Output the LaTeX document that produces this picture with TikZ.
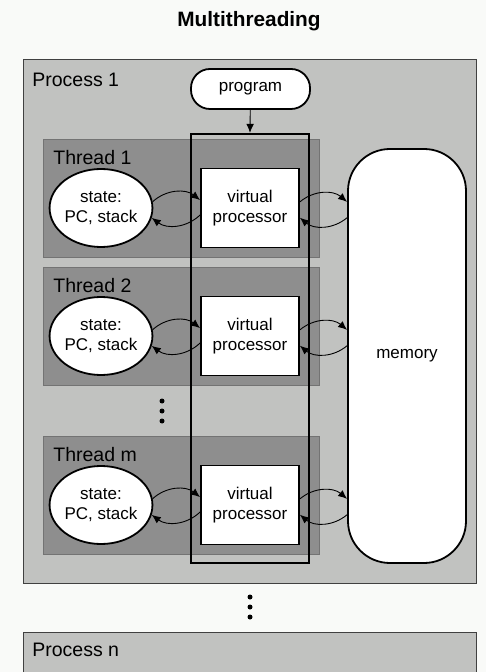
\documentclass[tikz,border=0pt]{standalone}
\usepackage{fontspec}
\setmainfont{Liberation Sans}
\usepackage{xcolor}
\usetikzlibrary{shapes.geometric, arrows, arrows.meta, positioning, fit}

\definecolor{pagebg}{RGB}{249,250,248}
\definecolor{procgray}{RGB}{193,194,192}
\definecolor{threadgray}{RGB}{142,142,142}

\begin{document}
\begin{tikzpicture}[x=0.5pt, y=0.5pt]
	% Styles
	\tikzstyle{procbox} = [draw=black!75, fill=procgray, line width=0.5pt, inner sep=0pt]
	\tikzstyle{threadbox} = [draw=black!55, fill=threadgray, line width=0.4pt, inner sep=0pt]
	\tikzstyle{caption} = [anchor=west, font=\fontsize{9.75}{11}\selectfont, inner sep=0pt]
	\tikzstyle{statenode} = [ellipse, draw, line width=0.9pt, fill=white, minimum width=48.5pt, minimum height=39pt, inner sep=0pt, align=center, font=\fontsize{8.5}{10}\selectfont]
	\tikzstyle{vpbox} = [rectangle, draw, line width=0.9pt, fill=white, minimum width=49pt, minimum height=39.5pt, inner sep=0pt, align=center, font=\fontsize{8.5}{10}\selectfont]
	\tikzstyle{roundbox} = [rectangle, draw, line width=0.9pt, fill=white, inner sep=0pt, font=\fontsize{8.5}{10}\selectfont]
	\tikzstyle{frame} = [draw, line width=1.1pt, inner sep=0pt]
	\tikzstyle{arrow} = [-{Latex[length=4.5pt, width=3.8pt]}, line width=0.45pt]
	\tikzstyle{dot} = [circle, fill=black, inner sep=0pt, minimum size=2.5pt]

	\clip (0,0) rectangle (486,-672);
	\fill[pagebg] (0,0) rectangle (486,-672);

	% Title and processes
	\node (title) at (249,-21) {\fontsize{10.4}{12}\selectfont\bfseries Multithreading};
	\node (proc1) [procbox, fit={(23,-60) (476,-583)}] {};
	\node (proc1label) [caption] at (32,-80) {Process 1};
	\node (procn) [procbox, fit={(23,-632) (476,-700)}] {};
	\node (procnlabel) [caption] at (32,-650) {Process n};
	\foreach \k in {0,1,2}
		\node (pdot\k) [dot] at (250,-597-10*\k) {};

	% Shared parts of process 1
	\node (memory) [roundbox, rounded corners=21pt, minimum width=59pt, minimum height=207pt] at (407,-356) {memory};
	\node (program) [roundbox, rounded corners=9.5pt, minimum width=59.5pt, minimum height=20pt] at (250.5,-89) {program};

	% Threads
	\foreach \ty/\tname in {139/1, 267/2, 436/m} {
		\node (thread\tname) [threadbox, fit={(43,-\ty) (319,-\ty-118)}] {};
		\node (label\tname) [caption] at (53,-\ty-19) {Thread \tname};
		\node (state\tname) [statenode] at (101,-\ty-69) {state:\\PC, stack};
		\node (vp\tname) [vpbox] at (250,-\ty-69) {virtual\\processor};
	}
	\foreach \k in {0,1,2}
		\node (tdot\k) [dot] at (162,-401-10*\k) {};

	\node (vpframe) [frame, fit={(191,-134) (309,-563)}] {};

	% Connections
	\draw [arrow] (program) -- (vpframe.north);
	\foreach \tname in {1, 2, m} {
		\draw [arrow] (state\tname.7) to[bend left=40] (vp\tname.171);
		\draw [arrow] (vp\tname.188) to[bend left=40] (state\tname.349);
		\draw [arrow] (vp\tname.7) to[bend left=40] (memory.west |- vp\tname.7);
		\draw [arrow] (memory.west |- vp\tname.349) to[bend left=40] (vp\tname.349);
	}
\end{tikzpicture}
\end{document}
